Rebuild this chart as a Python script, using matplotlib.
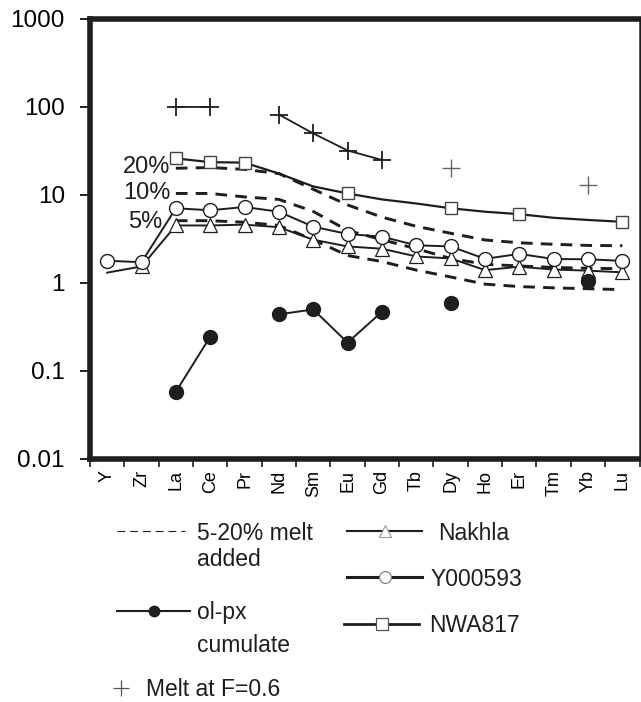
import numpy as np
import matplotlib.pyplot as plt
from matplotlib.lines import Line2D
from matplotlib.ticker import NullLocator

plt.rcParams['font.family'] = ['Liberation Sans', 'DejaVu Sans']
plt.rcParams['text.color'] = '#1e1e1e'

nan = np.nan
elements = ['Y', 'Zr', 'La', 'Ce', 'Pr', 'Nd', 'Sm', 'Eu', 'Gd', 'Tb', 'Dy', 'Ho', 'Er', 'Tm', 'Yb', 'Lu']

# chondrite-normalised values
nakhla = [1.31, 1.54, 4.5, 4.5, 4.6, 4.3, 3.1, 2.6, 2.45, 2.0, 1.9, 1.4, 1.53, 1.42, 1.38, 1.32]
y000593 = [1.79, 1.72, 7.06, 6.7, 7.3, 6.45, 4.36, 3.6, 3.36, 2.68, 2.6, 1.88, 2.14, 1.87, 1.86, 1.78]
nwa817 = [nan, nan, 26.0, 23.6, 23.3, 17.5, 12.5, 10.4, 8.9, 8.0, 7.06, 6.45, 6.05, 5.5, 5.2, 4.95]
melt5 = [nan, nan, 5.1, 5.1, 4.9, 4.5, 3.1, 2.05, 1.75, 1.4, 1.17, 0.97, 0.91, 0.88, 0.86, 0.84]
melt10 = [nan, nan, 10.4, 10.4, 9.5, 8.9, 6.5, 3.95, 3.1, 2.45, 1.9, 1.63, 1.56, 1.5, 1.47, 1.45]
melt20 = [nan, nan, 20.1, 20.5, 19.5, 17.5, 11.6, 7.7, 5.6, 4.4, 3.67, 3.08, 2.86, 2.75, 2.67, 2.65]
cumulate = [nan, nan, 0.058, 0.245, nan, 0.44, 0.50, 0.21, 0.47, nan, 0.59, nan, nan, nan, 1.05, nan]
melt_f06 = [nan, nan, 100, 100, nan, 82, 50, 32, 25, nan, 20, nan, nan, nan, 13, nan]

nwa_marked = [2, 3, 4, 7, 10, 12, 15]
melt_pct = ['5%', '10%', '20%']
melt_pct_pos = [(1.62, 4.9), (1.84, 10.5), (1.84, 20.8)]

ink = '#1e1e1e'
x = np.arange(len(elements))

fig = plt.figure(figsize=(6.41, 7.02), dpi=100)
ax = fig.add_axes([0.1404, 0.3462, 0.8573, 0.6268])

for m in [melt5, melt10, melt20]:
    ax.plot(x, m, color=ink, lw=2.1, dashes=(4, 2.8), zorder=2)
for (px, py), s in zip(melt_pct_pos, melt_pct):
    ax.text(px, py, s, ha='right', va='center', fontsize=17)

# melt at F=0.6: joined crosses up to Gd, isolated ones after
melt_arr = np.array(melt_f06, dtype=float)
joined = np.where(x <= 8, melt_arr, nan)
loose = np.where(x > 8, melt_arr, nan)
ax.plot(x, joined, color=ink, lw=1.3, marker='+', ms=13, mew=1.3, zorder=3)
ax.plot(x, loose, color='#666666', lw=0, marker='+', ms=13, mew=1.0, zorder=3)

ax.plot(x, nwa817, color=ink, lw=1.6, marker='s', ms=8.5, mfc='white',
        mec='#444444', mew=1.0, markevery=nwa_marked, zorder=4)
ax.plot(x, nakhla, color=ink, lw=1.4, marker='^', ms=9.5, mfc='white',
        mec=ink, mew=0.9, markevery=list(range(1, 16)), zorder=5)
ax.plot(x, y000593, color=ink, lw=1.4, marker='o', ms=10, mfc='white',
        mec=ink, mew=1.0, zorder=6)
ax.plot(x, cumulate, color=ink, lw=1.4, marker='o', ms=10, mfc=ink,
        mec=ink, zorder=7)

ax.set_yscale('log')
ax.set_ylim(0.01, 1000)
ax.set_yticks([0.01, 0.1, 1, 10, 100, 1000], ['0.01', '0.1', '1', '10', '100', '1000'])
ax.yaxis.set_minor_locator(NullLocator())
ax.tick_params(axis='y', length=7, width=1.4, pad=11, labelsize=17.5, color=ink)

ax.set_xlim(-0.42, 15.42)
ax.set_xticks(x, elements, rotation=90)
ax.set_xticks(np.arange(-0.5, 16, 1), minor=True)
ax.tick_params(axis='x', which='major', length=0, pad=8, labelsize=13)
ax.tick_params(axis='x', which='minor', length=6, width=1.2, color=ink)

for side in ['left', 'top', 'bottom']:
    ax.spines[side].set_linewidth(4.0)
    ax.spines[side].set_color(ink)
ax.spines['right'].set_linewidth(1.8)
ax.spines['right'].set_color(ink)


def entry(handle, label, xp, yp, hl, pad):
    leg = fig.legend([handle], [label], loc='center left',
                     bbox_to_anchor=(xp / 641, 1 - yp / 702), frameon=False,
                     fontsize=16.5, handlelength=hl, handletextpad=pad,
                     borderpad=0, borderaxespad=0)
    return leg


h_dash = Line2D([], [], color=ink, lw=0.8, dashes=(7, 4.5))
h_cum = Line2D([], [], color=ink, lw=1.5, marker='o', ms=7.5, mfc=ink, mec=ink)
h_melt = Line2D([], [], color='#555555', lw=0, marker='+', ms=12, mew=0.9)
h_nak = Line2D([], [], color=ink, lw=1.5, marker='^', ms=8, mfc='white', mec='#999999', mew=0.8)
h_y = Line2D([], [], color=ink, lw=2.2, marker='o', ms=8.5, mfc='white', mec='#777777', mew=0.8)
h_nwa = Line2D([], [], color=ink, lw=2.0, marker='s', ms=8, mfc='white', mec='#555555', mew=0.9)

entry(h_dash, '5-20% melt', 117, 533, 2.97, 0.52)
fig.text(197 / 641, 1 - 560 / 702, 'added', fontsize=16.5, va='center')
entry(h_cum, 'ol-px', 117, 613, 3.2, 0.3)
fig.text(197 / 641, 1 - 645 / 702, 'cumulate', fontsize=16.5, va='center')
entry(h_melt, 'Melt at F=0.6', 112, 690, 0.75, 0.75)
entry(h_nak, 'Nakhla', 347, 533, 3.28, 0.68)
entry(h_y, 'Y000593', 347, 579, 3.28, 0.35)
entry(h_nwa, 'NWA817', 344, 626, 3.28, 0.44)

fig.savefig('out.png', dpi=100)
